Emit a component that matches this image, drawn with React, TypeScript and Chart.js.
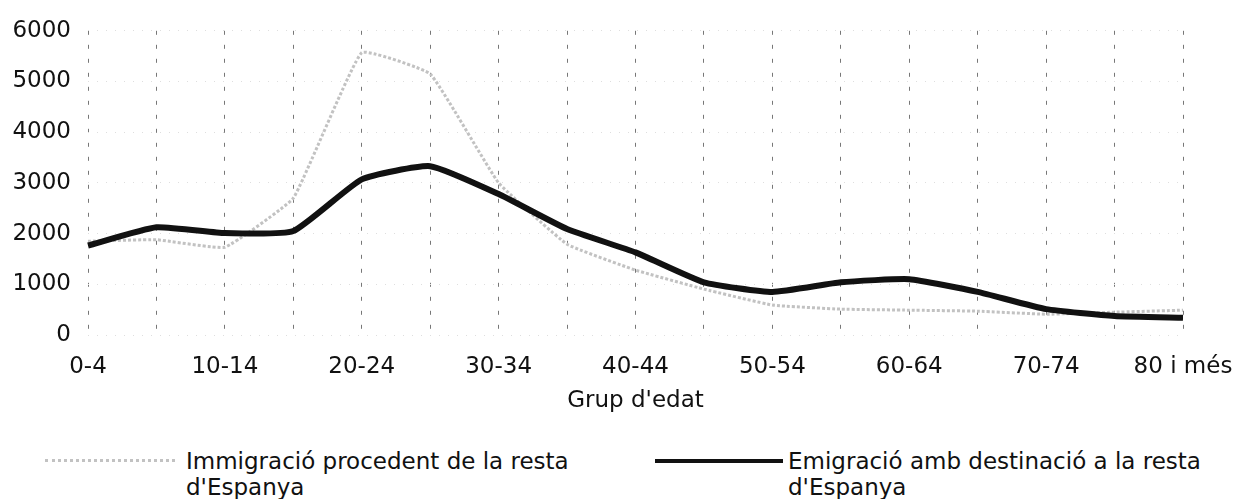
import { useEffect, useRef } from "react";
import { Chart, registerables } from "chart.js";

Chart.register(...registerables);

const ageGroups = [
  "0-4", "5-9", "10-14", "15-19", "20-24", "25-29", "30-34", "35-39", "40-44",
  "45-49", "50-54", "55-59", "60-64", "65-69", "70-74", "75-79", "80 i més",
];
const immigration = [1850, 1880, 1730, 2700, 5570, 5150, 3000, 1790, 1280, 905, 590, 510, 490, 470, 410, 450, 490];
const emigration = [1765, 2125, 2010, 2050, 3070, 3330, 2780, 2090, 1630, 1040, 850, 1040, 1100, 850, 510, 375, 340];
const yMin = 0;
const yMax = 6000;
const yStep = 1000;
const seriesLabels = [
  "Immigració procedent de la resta d'Espanya",
  "Emigració amb destinació a la resta d'Espanya",
];
const axisTitle = "Grup d'edat";

const FONT = "'DejaVu Sans', 'Liberation Sans', Arial, sans-serif";
const TEXT = "#111";
const GREY = "#c2c2c2";
const BLACK = "#111";

export default function App() {
  const ref = useRef<HTMLCanvasElement>(null);

  useEffect(() => {
    document.body.style.margin = "0";
    Chart.defaults.font.family = FONT;
    const chart = new Chart(ref.current!, {
      type: "line",
      data: {
        labels: ageGroups,
        datasets: [
          {
            label: seriesLabels[0],
            data: immigration,
            borderColor: GREY,
            borderWidth: 3,
            borderDash: [3, 2],
            pointRadius: 0,
            tension: 0.1,
            fill: false,
            order: 1,
          },
          {
            label: seriesLabels[1],
            data: emigration,
            borderColor: BLACK,
            borderWidth: 6,
            pointRadius: 0,
            tension: 0.15,
            fill: false,
            order: 0,
          },
        ],
      },
      options: {
        responsive: false,
        animation: false,
        layout: { padding: { left: 0, right: 52, top: 28, bottom: 0 } },
        plugins: { legend: { display: false }, tooltip: { enabled: false } },
        scales: {
          x: {
            grid: { color: "#777", lineWidth: 1, drawTicks: false, borderDash: [4, 10] } as any,
            border: { display: false, dash: [4, 10] },
            ticks: {
              autoSkip: false,
              maxRotation: 0,
              minRotation: 0,
              padding: 18,
              color: TEXT,
              font: { size: 23, family: FONT },
              callback: (_v: any, i: number) => (i % 2 === 0 ? ageGroups[i] : ""),
            },
            title: {
              display: true,
              text: axisTitle,
              color: TEXT,
              font: { size: 23, family: FONT },
              padding: { top: 0, bottom: 25 },
            },
            afterFit: (s: any) => {
              s.height = 105;
              s.paddingLeft = 0;
              s.paddingRight = 0;
            },
          },
          y: {
            min: yMin,
            max: yMax,
            grid: { color: "#dedede", lineWidth: 1, drawTicks: false, borderDash: [1, 8] } as any,
            border: { display: false, dash: [1, 8] },
            ticks: {
              stepSize: yStep,
              padding: 17,
              color: TEXT,
              font: { size: 23, family: FONT },
              callback: (v: any) => String(v),
            },
            afterFit: (s: any) => {
              s.width = 88;
            },
          },
        },
      },
    });
    return () => chart.destroy();
  }, []);

  const textStyle: React.CSSProperties = {
    position: "absolute",
    top: 448,
    fontFamily: FONT,
    fontSize: 23,
    lineHeight: "26px",
    color: TEXT,
    width: 440,
  };

  return (
    <div style={{ position: "relative", width: 1235, height: 499, background: "#fff", overflow: "hidden" }}>
      <canvas ref={ref} width={1235} height={440} style={{ display: "block" }} />
      <div
        style={{
          position: "absolute",
          left: 45,
          top: 459,
          width: 130,
          height: 0,
          borderTop: `3px dotted ${GREY}`,
        }}
      />
      <div style={{ ...textStyle, left: 186 }}>{seriesLabels[0]}</div>
      <div
        style={{
          position: "absolute",
          left: 655,
          top: 459,
          width: 128,
          height: 4,
          background: BLACK,
        }}
      />
      <div style={{ ...textStyle, left: 788 }}>{seriesLabels[1]}</div>
    </div>
  );
}
